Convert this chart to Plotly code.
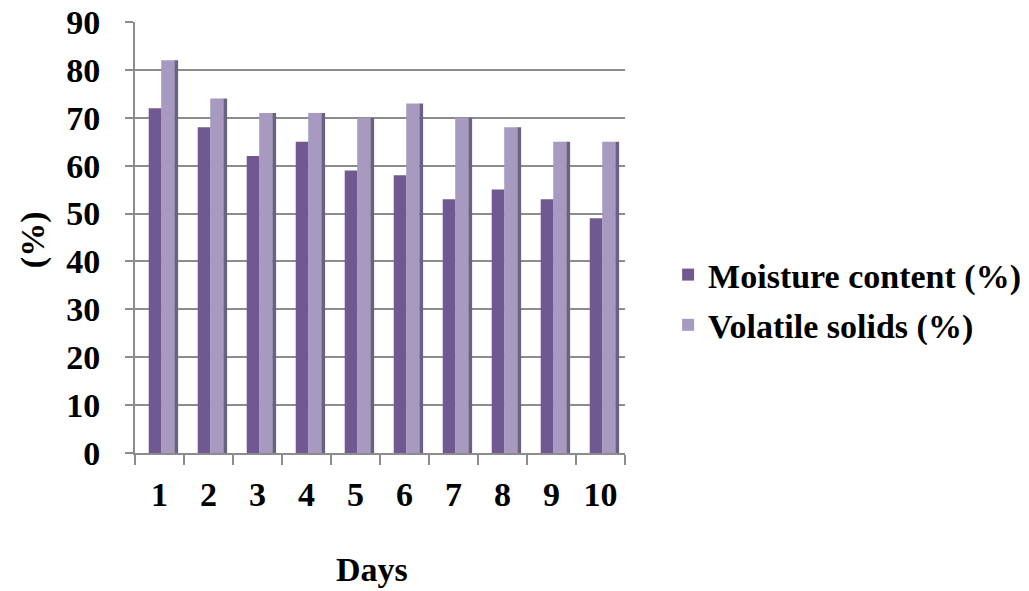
import plotly.graph_objects as go

days = [1, 2, 3, 4, 5, 6, 7, 8, 9, 10]
day_labels = ["1", "2", "3", "4", "5", "6", "7", "8", "9", "10"]
moisture = [72, 68, 62, 65, 59, 58, 53, 55, 53, 49]
volatile = [82, 74, 71, 71, 70, 73, 70, 68, 65, 65]
y_ticks = [0, 10, 20, 30, 40, 50, 60, 70, 80, 90]

FONT = "Liberation Serif"
FS = 34
fig = go.Figure()

# darker side face of volatile bars (faux 3D)
fig.add_trace(go.Bar(x=days, y=volatile, width=0.08, offset=0.30,
                     marker=dict(color="#6b6180", line=dict(width=0)),
                     showlegend=False, hoverinfo="skip"))
fig.add_trace(go.Bar(x=days, y=moisture, width=0.26, offset=-0.22,
                     name="Moisture content (%)", legendgroup="a",
                     marker=dict(color="#705891", line=dict(width=0))))
fig.add_trace(go.Bar(x=days, y=volatile, width=0.27, offset=0.035,
                     name="Volatile solids (%)", legendgroup="b",
                     marker=dict(color="#a899c0", line=dict(width=0))))

fig.update_layout(
    width=1029, height=591,
    margin=dict(l=135, r=404, t=22, b=138, autoexpand=False),
    barmode="overlay",
    paper_bgcolor="white", plot_bgcolor="white",
    font=dict(family=FONT, size=FS, color="black", weight="bold"),
    xaxis=dict(range=[0.5, 10.5], tickmode="array", tickvals=days, ticktext=day_labels,
               showgrid=False, showline=True, linecolor="#8c8c8c", linewidth=2,
               ticks="", ticklabelstandoff=10, zeroline=False,
               tickfont=dict(family=FONT, size=FS, color="black", weight="bold")),
    yaxis=dict(range=[0, 90], tickmode="array", tickvals=y_ticks,
               showgrid=True, gridcolor="#8c8c8c", gridwidth=2,
               showline=True, linecolor="#8c8c8c", linewidth=2,
               ticks="outside", ticklen=8, tickcolor="#8c8c8c", tickwidth=2,
               ticklabelstandoff=18, zeroline=False,
               tickfont=dict(family=FONT, size=FS, color="black", weight="bold")),
    legend=dict(x=1.088, y=0.355, xanchor="left", yanchor="middle",
                traceorder="grouped", tracegroupgap=3,
                font=dict(family=FONT, size=FS, color="black", weight="bold"),
                itemwidth=30),
    annotations=[
        dict(text="(%)", xref="paper", yref="paper", x=-0.208, y=0.494,
             xanchor="center", yanchor="middle",
             textangle=-90, showarrow=False,
             font=dict(family=FONT, size=FS, color="black", weight="bold")),
        dict(text="Days", xref="paper", yref="paper", x=0.484, y=-0.318,
             xanchor="center", yanchor="bottom",
             showarrow=False,
             font=dict(family=FONT, size=FS, color="black", weight="bold")),
    ],
)

# x tick marks at category boundaries
fig.update_xaxes(minor=dict(tickvals=[d + 0.5 for d in [0] + days], ticks="outside",
                            ticklen=10, tickcolor="#8c8c8c", tickwidth=2))

fig.write_html("out.html", post_script="document.body.style.margin='0';",
               config={"displayModeBar": False})
